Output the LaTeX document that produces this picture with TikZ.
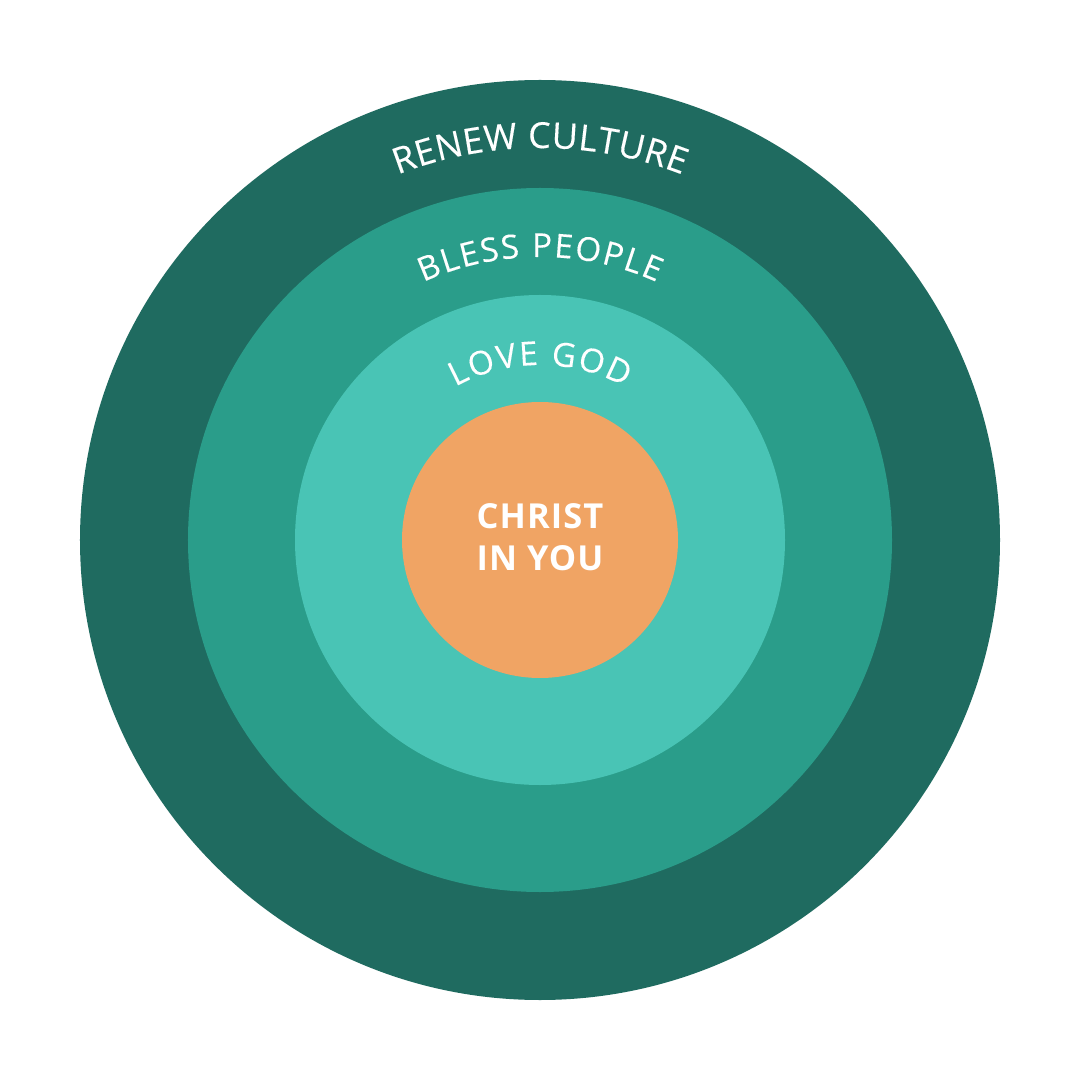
\documentclass[tikz,border=0pt]{standalone}
\usepackage{fontspec}
\setmainfont{Open Sans}
\newfontfamily\arcfont[FakeBold=0.25]{Open Sans}
\usetikzlibrary{decorations.text}
\definecolor{ringA}{HTML}{1F6B60}
\definecolor{ringB}{HTML}{2A9D8A}
\definecolor{ringC}{HTML}{49C4B5}
\definecolor{core}{HTML}{F0A464}
\tikzset{
  arclabel/.style n args={3}{decorate, decoration={text effects along path, text align=center, text={#3},
    text effects/.cd, text along path,
    characters={text=white, font=\arcfont\fontsize{#1}{14}\selectfont\color{white}, inner sep=0pt},
    character widths={font=\arcfont\fontsize{#1}{14}\selectfont, inner sep=0pt, inner xsep=#2}}}
}
\begin{document}
\begin{tikzpicture}
\fill[white] (-5.4,-5.4) rectangle (5.4,5.4);
\useasboundingbox (-5.4,-5.4) rectangle (5.4,5.4);
\fill[ringA] (0,0) circle[radius=4.6cm];
\fill[ringB] (0,0) circle[radius=3.52cm];
\fill[ringC] (0,0) circle[radius=2.45cm];
\fill[core] (0,0) circle[radius=1.38cm];
\path[arclabel={10.2}{0.05pt}{RENEW CULTURE}] (180:3.92) arc[start angle=180,end angle=0,radius=3.92cm];
\path[arclabel={9.4}{0.25pt}{BLESS PEOPLE}] (180:2.83) arc[start angle=180,end angle=0,radius=2.83cm];
\path[arclabel={9.4}{0.27pt}{LOVE GOD}] (180:1.75) arc[start angle=180,end angle=0,radius=1.75cm];
\node[text=white, align=center, font=\bfseries\fontsize{9.8}{11.9}\selectfont\addfontfeature{LetterSpace=3}] (core) at (0,0.03) {CHRIST\\IN YOU};
\end{tikzpicture}
\end{document}
